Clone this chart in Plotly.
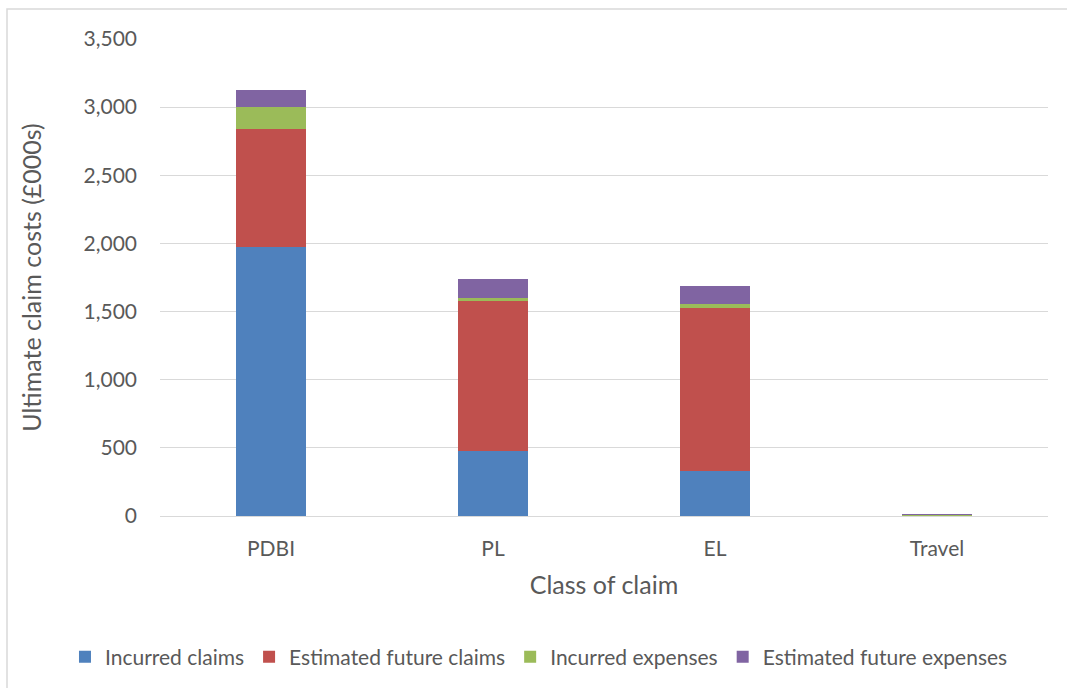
import plotly.graph_objects as go

categories = ["PDBI", "PL", "EL", "Travel"]
incurred_claims = [1976, 477, 330, 3]
estimated_future_claims = [863, 1098, 1198, 4]
incurred_expenses = [164, 24, 27, 1]
estimated_future_expenses = [122, 138, 130, 5]

series = [
    ("Incurred claims", incurred_claims, "#4F81BD"),
    ("Estimated future claims", estimated_future_claims, "#C0504D"),
    ("Incurred expenses", incurred_expenses, "#9BBB59"),
    ("Estimated future expenses", estimated_future_expenses, "#8064A2"),
]

fig = go.Figure()
for name, vals, col in series:
    fig.add_trace(go.Bar(x=categories, y=vals, name=name, marker_color=col,
                         marker_line_width=0))

font_family = "Lato, 'Open Sans', sans-serif"
fig.update_layout(
    barmode="stack",
    bargap=0.685,
    width=1067, height=688,
    margin=dict(l=160, r=19, t=39, b=172, autoexpand=False),
    paper_bgcolor="white", plot_bgcolor="white",
    font=dict(family=font_family, size=21, color="#595959"),
    legend=dict(orientation="h", x=-0.107, xanchor="left", y=-0.296, yanchor="middle",
                bgcolor="rgba(0,0,0,0)",
                font=dict(size=21, color="#595959"), itemwidth=30, traceorder="normal"),
    xaxis=dict(title=dict(text="Class of claim", standoff=17, font=dict(size=25)),
               showline=True, linecolor="#D9D9D9", linewidth=1, ticks="",
               ticklabelstandoff=14, tickfont=dict(size=21)),
    yaxis=dict(title=dict(text="Ultimate claim costs (£000s)", standoff=34, font=dict(size=25)),
               range=[0, 3500], dtick=500, tickformat=",", showgrid=True,
               gridcolor="#D9D9D9", gridwidth=1, zeroline=False,
               ticklabelstandoff=22, tickfont=dict(size=21)),
    shapes=[dict(type="rect", xref="paper", yref="paper",
                 x0=-0.1723, x1=1.05, y0=-0.40, y1=1.0629,
                 line=dict(color="#D9D9D9", width=1.5), fillcolor="rgba(0,0,0,0)")],
)

fig.write_html("out.html")
